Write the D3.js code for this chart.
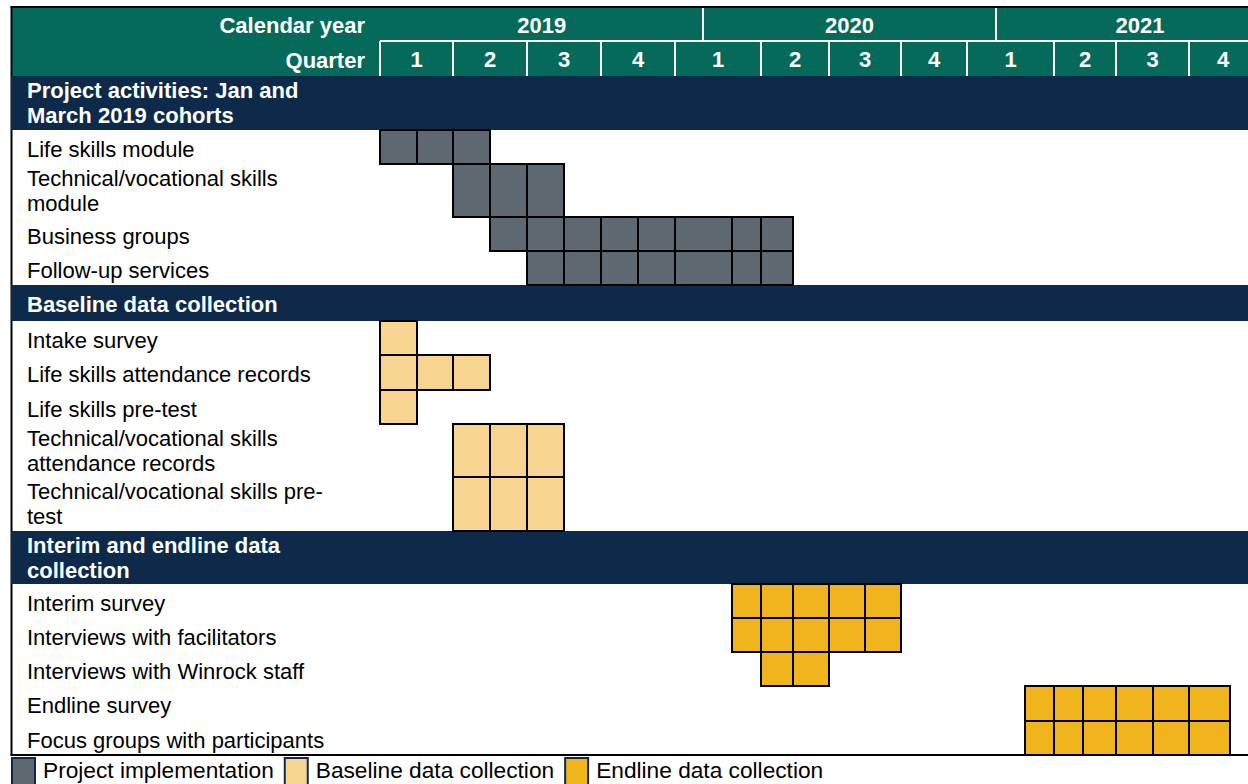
<!DOCTYPE html>
<html>
<head>
<meta charset="utf-8">
<script src="https://cdn.jsdelivr.net/npm/d3@7"></script>
<style>
  body { margin: 0; background: #fff; }
  text { font-family: "Liberation Sans", Arial, sans-serif; }
</style>
</head>
<body>
<div id="chart"></div>
<script>
const years = ['2019', '2020', '2021'];
const quarters = ['1', '2', '3', '4', '1', '2', '3', '4', '1', '2', '3', '4'];
const sections = [
  'Project activities: Jan and\nMarch 2019 cohorts',
  'Baseline data collection',
  'Interim and endline data\ncollection'
];
const tasks = [
  'Life skills module',
  'Technical/vocational skills\nmodule',
  'Business groups',
  'Follow-up services',
  'Intake survey',
  'Life skills attendance records',
  'Life skills pre-test',
  'Technical/vocational skills\nattendance records',
  'Technical/vocational skills pre-\ntest',
  'Interim survey',
  'Interviews with facilitators',
  'Interviews with Winrock staff',
  'Endline survey',
  'Focus groups with participants'
];
const taskSection = [0, 0, 0, 0, 1, 1, 1, 1, 1, 2, 2, 2, 2, 2];
const taskPhase = [0, 0, 0, 0, 1, 1, 1, 1, 1, 2, 2, 2, 2, 2];
// cell edges, in quarters counted from Jan 2019
const taskCells = [
  [0, 0.5, 1, 1.5],
  [1, 1.5, 2, 2.5],
  [1.5, 2, 2.5, 3, 3.5, 4, 4.667, 5, 5.47],
  [2, 2.5, 3, 3.5, 4, 4.667, 5, 5.47],
  [0, 0.5],
  [0, 0.5, 1, 1.5],
  [0, 0.5],
  [1, 1.5, 2, 2.5],
  [1, 1.5, 2, 2.5],
  [4.667, 5, 5.47, 6, 6.5, 7],
  [4.667, 5, 5.47, 6, 6.5, 7],
  [5, 5.47, 6],
  [8.667, 9, 9.47, 10, 10.5, 11, 11.61],
  [8.667, 9, 9.47, 10, 10.5, 11, 11.61]
];
const yearBreaks = [0, 4.33, 8.33, 12.4];
const legendLabels = ['Project implementation', 'Baseline data collection', 'Endline data collection'];

const W = 1248, H = 784;
const green = '#066a5a', navy = '#0d2a4a';
const phaseColor = d3.scaleOrdinal().domain([0, 1, 2]).range(['#5d6871', '#f7d591', '#f0b51d']);

// table columns are uneven, like the source document
const colEdges = [380, 453, 527, 601, 675, 761, 829, 901, 967, 1054, 1116, 1189, 1257];
const x = d3.scaleLinear().domain(d3.range(13)).range(colEdges);

const svg = d3.select('#chart').append('svg')
  .attr('width', W)
  .attr('height', H);
svg.append('rect').attr('width', W).attr('height', H).attr('fill', '#fff');

// rows
const rows = [];
let cur = -1;
tasks.forEach((t, i) => {
  if (taskSection[i] !== cur) {
    cur = taskSection[i];
    rows.push({ type: 'section', label: sections[cur] });
  }
  rows.push({ type: 'task', label: t, cells: taskCells[i], phase: taskPhase[i] });
});
let yy = 76;
rows.forEach(r => {
  r.lines = r.label.split('\n');
  r.y0 = Math.round(yy);
  yy += r.lines.length > 1 ? 53.5 : (r.type === 'section' ? 36 : 34.1);
  r.y1 = Math.round(yy);
});
const tableBottom = rows[rows.length - 1].y1;

// header
const header = svg.append('g');
header.append('rect')
  .attr('x', 11).attr('y', 8)
  .attr('width', W - 11).attr('height', 68)
  .attr('fill', green);
header.append('line')
  .attr('x1', x(0)).attr('x2', W)
  .attr('y1', 41).attr('y2', 41)
  .attr('stroke', '#fff').attr('stroke-width', 2);
header.selectAll('line.q')
  .data(d3.range(12))
  .enter().append('line')
  .attr('class', 'q')
  .attr('x1', d => Math.round(x(d))).attr('x2', d => Math.round(x(d)))
  .attr('y1', 41).attr('y2', 76)
  .attr('stroke', '#fff').attr('stroke-width', 2);
header.selectAll('line.y')
  .data(yearBreaks.slice(1, 3))
  .enter().append('line')
  .attr('class', 'y')
  .attr('x1', d => Math.round(x(d))).attr('x2', d => Math.round(x(d)))
  .attr('y1', 8).attr('y2', 41)
  .attr('stroke', '#fff').attr('stroke-width', 2);

const hdrText = (sel) => sel
  .attr('fill', '#fff')
  .attr('font-size', 22)
  .attr('font-weight', 'bold');

header.append('text').call(hdrText)
  .attr('x', 365).attr('y', 33)
  .attr('text-anchor', 'end')
  .text('Calendar year');
header.append('text').call(hdrText)
  .attr('x', 365).attr('y', 68)
  .attr('text-anchor', 'end')
  .text('Quarter');
header.selectAll('text.yr')
  .data(years)
  .enter().append('text')
  .attr('class', 'yr')
  .call(hdrText)
  .attr('x', (d, i) => (x(yearBreaks[i]) + x(yearBreaks[i + 1])) / 2)
  .attr('y', 33)
  .attr('text-anchor', 'middle')
  .text(d => d);
header.selectAll('text.qt')
  .data(quarters)
  .enter().append('text')
  .attr('class', 'qt')
  .call(hdrText)
  .attr('x', (d, i) => (x(i) + x(i + 1)) / 2)
  .attr('y', 67)
  .attr('text-anchor', 'middle')
  .text(d => d);

// outer lines
svg.append('line')
  .attr('x1', 11.5).attr('x2', 11.5)
  .attr('y1', 7).attr('y2', tableBottom)
  .attr('stroke', '#000').attr('stroke-width', 2);
svg.append('line')
  .attr('x1', 10.5).attr('x2', W)
  .attr('y1', 7).attr('y2', 7)
  .attr('stroke', '#000').attr('stroke-width', 2);

// section bars
const secRows = rows.filter(r => r.type === 'section');
svg.selectAll('rect.sec')
  .data(secRows)
  .enter().append('rect')
  .attr('class', 'sec')
  .attr('x', 11).attr('y', d => d.y0)
  .attr('width', W - 11).attr('height', d => d.y1 - d.y0)
  .attr('fill', navy);

// activity cells
const taskRows = rows.filter(r => r.type === 'task');
const cellData = [];
taskRows.forEach(r => {
  d3.pairs(r.cells).forEach(([a, b]) => {
    cellData.push({ x0: Math.round(x(a)), x1: Math.round(x(b)), y0: r.y0, y1: r.y1, phase: r.phase });
  });
});
svg.selectAll('rect.cell')
  .data(cellData)
  .enter().append('rect')
  .attr('class', 'cell')
  .attr('x', d => d.x0).attr('y', d => d.y0)
  .attr('width', d => d.x1 - d.x0).attr('height', d => d.y1 - d.y0)
  .attr('fill', d => phaseColor(d.phase))
  .attr('stroke', '#000').attr('stroke-width', 2);

// row labels
rows.forEach(r => {
  const t = svg.append('text')
    .attr('x', 27)
    .attr('font-size', 22)
    .attr('fill', r.type === 'section' ? '#fff' : '#000')
    .attr('font-weight', r.type === 'section' ? 'bold' : null);
  r.lines.forEach((ln, i) => {
    t.append('tspan')
      .attr('x', 27)
      .attr('y', r.y0 + (r.lines.length > 1 ? 22 : 27) + i * 25)
      .text(ln);
  });
});

svg.append('line')
  .attr('x1', 10.5).attr('x2', W)
  .attr('y1', tableBottom).attr('y2', tableBottom)
  .attr('stroke', '#000').attr('stroke-width', 2);

// legend
const legend = svg.append('g');
let lx = 12;
legendLabels.forEach((lab, i) => {
  legend.append('rect')
    .attr('x', lx).attr('y', 758)
    .attr('width', 23).attr('height', 30)
    .attr('fill', phaseColor(i))
    .attr('stroke', navy).attr('stroke-width', 2);
  const t = legend.append('text')
    .attr('x', lx + 31).attr('y', 778)
    .attr('font-size', 22.7)
    .attr('fill', '#000')
    .text(lab);
  lx += 31 + t.node().getComputedTextLength() + 11;
});
</script>
</body>
</html>
